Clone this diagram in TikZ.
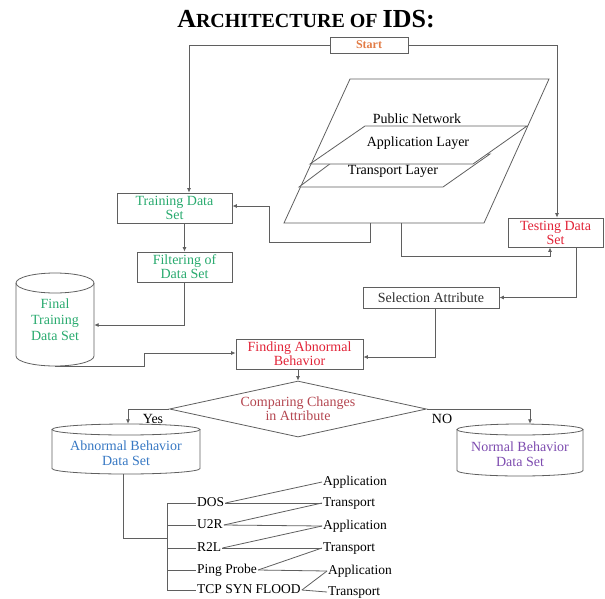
\documentclass[tikz,border=0pt]{standalone}
\usepackage{fontspec}
\setmainfont{Liberation Serif}
\usetikzlibrary{arrows.meta,shapes.geometric,calc}
\definecolor{lc}{RGB}{95,95,95}
\definecolor{orangeT}{RGB}{226,124,70}
\definecolor{greenT}{RGB}{40,170,110}
\definecolor{redT}{RGB}{225,35,55}
\definecolor{cmpT}{RGB}{180,70,80}
\definecolor{blueT}{RGB}{55,120,195}
\definecolor{purpT}{RGB}{125,75,175}
\definecolor{darkT}{RGB}{45,45,45}
\newcommand{\mycyl}[5]{% cx, top, bottom, rx, ry
  \draw[ln] (#1,#2+#5) ellipse [x radius=#4pt, y radius=#5pt];
  \draw[ln] (#1-#4,#2+#5) -- (#1-#4,#3-#5) arc[start angle=180,end angle=360,x radius=#4pt,y radius=#5pt] -- (#1+#4,#2+#5);
}
\begin{document}
\begin{tikzpicture}[x=1pt,y=-1pt,
  every node/.style={font=\fontsize{14}{14}\selectfont, align=center, inner sep=0pt},
  ln/.style={draw=lc, line width=0.8pt},
  arr/.style={ln, -{Latex[length=4.5pt,width=4pt]}},
  box/.style={draw=lc, line width=0.8pt, rectangle},
  cylbox/.style={draw=none, rectangle},
  leaf/.style={anchor=west, inner sep=1pt, text height=9pt, text depth=3pt, font=\fontsize{13.5}{13.5}\selectfont}
]
\useasboundingbox (0,0) rectangle (605,598);

% title
\node (title) at (306,19) {\bfseries\fontsize{26}{26}\selectfont A\fontsize{20}{20}\selectfont RCHITECTURE OF \fontsize{26}{26}\selectfont IDS:};

% network parallelograms
\draw[ln] (350,79) -- (549,79) -- (484,223) -- (284,223) -- cycle;
\draw[ln, fill=white] (343,154) -- (490,154) -- (443,187) -- (299,187) -- cycle;
\draw[ln, fill=white] (365,126) -- (527,126) -- (473,164) -- (310,164) -- cycle;
\node (pub) at (417,119) {Public Network};
\node (appl) at (418,143) {Application Layer};
\node (tran) at (393,171) {Transport Layer};
\coordinate (n1) at (370,223);
\coordinate (n2) at (401,223);

% boxes
\node[box, minimum width=78pt, minimum height=16pt, text=orangeT, font=\fontsize{12}{12}\selectfont\bfseries] (start) at (369,45) {Start};
\node[box, minimum width=115pt, minimum height=30pt, text=greenT] (train) at (174.5,208) {Training Data\\Set};
\node[box, minimum width=95pt, minimum height=30pt, text=greenT] (filter) at (184.5,267) {Filtering of\\Data Set};
\node[box, minimum width=95pt, minimum height=29pt, text=redT] (test) at (555.5,232.5) {Testing Data\\Set};
\node[box, minimum width=136pt, minimum height=21pt, text=darkT] (sel) at (431,297.5) {Selection Attribute};
\node[box, minimum width=127pt, minimum height=30pt, text=redT] (find) at (299.5,354) {Finding Abnormal\\Behavior};
\node[draw=lc, line width=0.8pt, diamond, shape aspect=4.6, minimum width=257pt, minimum height=56pt, text=cmpT] (cmp) at (298,409) {Comparing Changes\\in Attribute};

% cylinders
\mycyl{55}{273}{366}{39}{10}
\node[cylbox, minimum width=78pt, minimum height=93pt, text=greenT, font=\fontsize{14}{16}\selectfont] (final) at (55,319.5) {Final\\Training\\Data Set};
\mycyl{126}{424}{474}{74}{5.5}
\node[cylbox, minimum width=148pt, minimum height=50pt] (abn) at (126,449) {};
\node[text=blueT, font=\fontsize{14}{15}\selectfont] (abnt) at (126,453.5) {Abnormal Behavior\\Data Set};
\mycyl{520}{424}{476}{63}{5.5}
\node[cylbox, minimum width=126pt, minimum height=52pt] (norm) at (520,450) {};
\node[text=purpT, font=\fontsize{14}{15}\selectfont] (normt) at (520,454) {Normal Behavior\\Data Set};

\node (yes) at (153,419) {Yes};
\node (no) at (442,419) {NO};

% connectors
\draw[arr] (start.west) -| ([xshift=14.5pt]train.north);
\draw[arr] (start.east) -| ([xshift=1.5pt]test.north);
\coordinate (k1) at (269,242);
\draw[arr] (n1) |- (k1) |- ([yshift=2pt]train.east);
\draw[arr] (n2) |- ([xshift=-5.5pt,yshift=-9pt]test.south) -- ([xshift=-5.5pt]test.south);
\draw[arr] (filter.north |- train.south) -- (filter.north);
\draw[arr] (filter.south) |- ([yshift=-5.5pt]final.east);
\draw[arr] ([xshift=20.5pt]test.south) |- (sel.east);
\draw[arr] ([xshift=4pt]sel.south) |- ([yshift=-3pt]find.east);
\coordinate (k3) at (144,353);
\draw[arr] (final.south) -| (k3) -- (find.west |- k3);
\draw[arr] (cmp.north |- find.south) -- (cmp.north);
\draw[arr] (cmp.west) -| ([xshift=2pt]abn.north);
\draw[arr] (cmp.east) -| ([xshift=10pt]norm.north);

% tree
\node[leaf] (dos) at (196,503) {DOS};
\node[leaf] (u2r) at (196,525) {U2R};
\node[leaf] (r2l) at (196,548) {R2L};
\node[leaf] (ping) at (196,570) {Ping Probe};
\node[leaf] (tcp) at (196,590) {TCP SYN FLOOD};
\node[leaf] (ap1) at (322,482) {Application};
\node[leaf] (tp1) at (322,503) {Transport};
\node[leaf] (ap2) at (322,526) {Application};
\node[leaf] (tp2) at (322,548) {Transport};
\node[leaf] (ap3) at (327,571) {Application};
\node[leaf] (tp3) at (327,592) {Transport};

\coordinate (tr1) at (167,503);
\coordinate (tr5) at (167,590);
\coordinate (k4) at (167,538);
\draw[ln] ([xshift=-3pt]abn.south) |- (k4);
\draw[ln] (tr1) -- (tr5);
\foreach \n in {dos,u2r,r2l,ping,tcp}{\draw[ln] (\n.west -| tr1) -- (\n.west);}
\draw[ln] (dos.east) -- (ap1.west);
\draw[ln] (dos.east) -- (tp1.west);
\draw[ln] (u2r.east) -- (tp1.west);
\draw[ln] (u2r.east) -- (ap2.west);
\draw[ln] (r2l.east) -- (ap2.west);
\draw[ln] (r2l.east) -- (tp2.west);
\draw[ln] (ping.east) -- (tp2.west);
\draw[ln] (ping.east) -- (ap3.west);
\draw[ln] (tcp.east) -- (ap3.west);
\draw[ln] (tcp.east) -- (tp3.west);
\end{tikzpicture}
\end{document}
